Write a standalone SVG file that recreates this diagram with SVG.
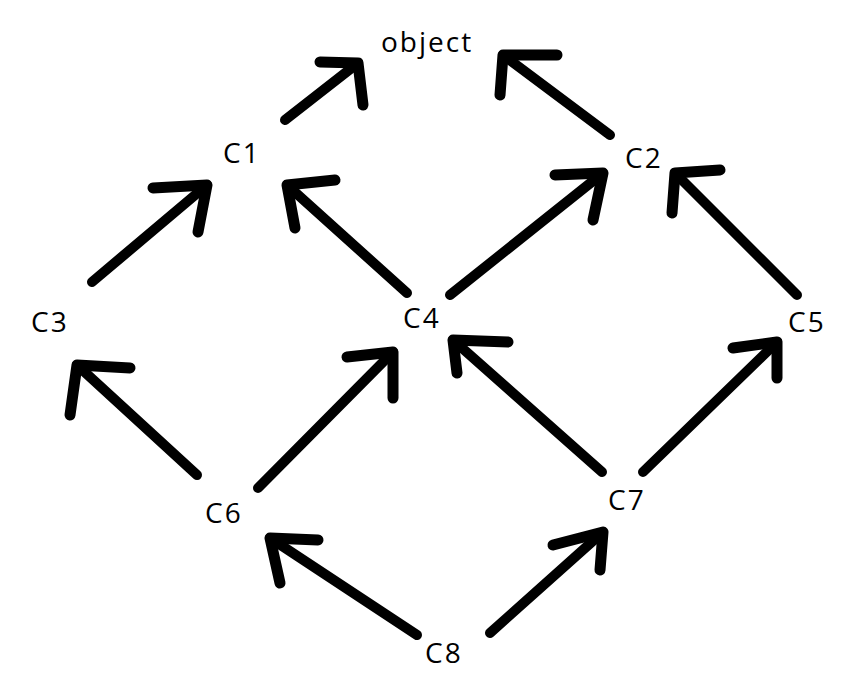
<svg xmlns="http://www.w3.org/2000/svg" width="866" height="696" viewBox="0 0 866 696">
<style>
.lbl{font-family:"Open Sans","DejaVu Sans",sans-serif;font-size:28px;letter-spacing:2px;fill:#000}
.ln{fill:none;stroke:#000;stroke-width:10;stroke-linecap:round;stroke-linejoin:round}
.hd{fill:none;stroke:#000;stroke-width:11;stroke-linecap:round;stroke-linejoin:round}
</style>
<rect width="866" height="696" fill="#fff"/>
<g id="connectors">
<g id="c1-object"><path class="ln" d="M285,120 L358,63"/><path class="hd" d="M320,62 L358,63 L363,105"/></g>
<g id="c2-object"><path class="ln" d="M610,135 L503,55"/><path class="hd" d="M557,55 L503,55 L500,95"/></g>
<g id="c3-c1"><path class="ln" d="M92,282 L207,185"/><path class="hd" d="M153,188 L207,185 L198,232"/></g>
<g id="c4-c1"><path class="ln" d="M407,293 L287,185"/><path class="hd" d="M335,180 L287,185 L295,228"/></g>
<g id="c4-c2"><path class="ln" d="M450,295 L603,173"/><path class="hd" d="M555,175 L603,173 L593,220"/></g>
<g id="c5-c2"><path class="ln" d="M797,295 L675,173"/><path class="hd" d="M720,170 L675,173 L672,213"/></g>
<g id="c6-c3"><path class="ln" d="M197,475 L77,365"/><path class="hd" d="M130,368 L77,365 L70,415"/></g>
<g id="c6-c4"><path class="ln" d="M258,488 L393,352"/><path class="hd" d="M347,357 L393,352 L393,398"/></g>
<g id="c7-c4"><path class="ln" d="M602,472 L453,340"/><path class="hd" d="M508,342 L453,340 L457,373"/></g>
<g id="c7-c5"><path class="ln" d="M643,472 L777,342"/><path class="hd" d="M733,348 L777,342 L777,378"/></g>
<g id="c8-c6"><path class="ln" d="M417,635 L270,538"/><path class="hd" d="M318,540 L270,538 L280,583"/></g>
<g id="c8-c7"><path class="ln" d="M490,633 L603,532"/><path class="hd" d="M553,545 L603,532 L600,570"/></g>
</g>
<g id="object"><text class="lbl" x="381" y="52">object</text></g>
<g id="C1"><text class="lbl" x="223" y="163">C1</text></g>
<g id="C2"><text class="lbl" x="625" y="168">C2</text></g>
<g id="C3"><text class="lbl" x="31" y="332">C3</text></g>
<g id="C4"><text class="lbl" x="403" y="328">C4</text></g>
<g id="C5"><text class="lbl" x="788" y="332">C5</text></g>
<g id="C6"><text class="lbl" x="205" y="523">C6</text></g>
<g id="C7"><text class="lbl" x="608" y="510">C7</text></g>
<g id="C8"><text class="lbl" x="425" y="663">C8</text></g>
</svg>
